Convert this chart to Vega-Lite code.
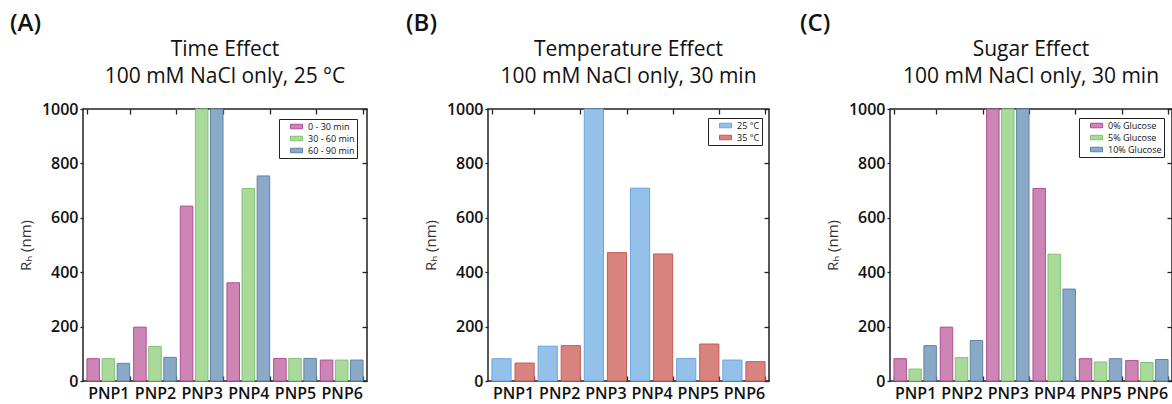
{
  "$schema": "https://vega.github.io/schema/vega-lite/v6.json",
  "padding": {"left": 10, "top": 12, "right": 0, "bottom": 0},
  "background": "white",
  "config": {
    "font": "Open Sans",
    "view": {"stroke": "#222", "strokeWidth": 1.5},
    "axis": {"grid": false, "domain": false, "labelFontSize": 16, "labelFontWeight": 600, "labelColor": "#111", "tickColor": "#222", "tickWidth": 1.3, "titleFontWeight": "normal", "titleFontSize": 15, "titleColor": "#333"},
    "title": {"color": "#111"},
    "legend": {"strokeColor": "#222", "fillColor": "white", "padding": 2, "labelFontSize": 9, "labelColor": "#111", "rowPadding": 1, "symbolType": "M-1.2,-0.45H1.2V0.45H-1.2Z", "symbolSize": 100, "symbolStrokeWidth": 1, "labelOffset": 6, "symbolOffset": 10, "cornerRadius": 0}
  },
  "spacing": 37,
  "resolve": {"scale": {"fill": "independent", "stroke": "independent", "xOffset": "independent"}, "legend": {"fill": "independent", "stroke": "independent"}},
  "hconcat": [
    {
      "title": {"text": "(A)", "anchor": "start", "frame": "group", "dx": -73, "fontSize": 24, "fontWeight": 600, "offset": 2},
      "vconcat": [
        {
          "title": {"text": ["Time Effect", "100 mM NaCl only, 25 °C"], "anchor": "middle", "frame": "group", "fontSize": 21, "fontWeight": 500, "lineHeight": 27, "offset": 14},
          "width": 284,
          "height": 272,
          "data": {"values": [
            {"pnp": "PNP1", "series": "0 - 30 min", "value": 82},
            {"pnp": "PNP1", "series": "30 - 60 min", "value": 82},
            {"pnp": "PNP1", "series": "60 - 90 min", "value": 65},
            {"pnp": "PNP2", "series": "0 - 30 min", "value": 198},
            {"pnp": "PNP2", "series": "30 - 60 min", "value": 127},
            {"pnp": "PNP2", "series": "60 - 90 min", "value": 87},
            {"pnp": "PNP3", "series": "0 - 30 min", "value": 643},
            {"pnp": "PNP3", "series": "30 - 60 min", "value": 1000},
            {"pnp": "PNP3", "series": "60 - 90 min", "value": 1000},
            {"pnp": "PNP4", "series": "0 - 30 min", "value": 361},
            {"pnp": "PNP4", "series": "30 - 60 min", "value": 708},
            {"pnp": "PNP4", "series": "60 - 90 min", "value": 754},
            {"pnp": "PNP5", "series": "0 - 30 min", "value": 83},
            {"pnp": "PNP5", "series": "30 - 60 min", "value": 83},
            {"pnp": "PNP5", "series": "60 - 90 min", "value": 83},
            {"pnp": "PNP6", "series": "0 - 30 min", "value": 77},
            {"pnp": "PNP6", "series": "30 - 60 min", "value": 77},
            {"pnp": "PNP6", "series": "60 - 90 min", "value": 77}
          ]},
          "layer": [
            {
              "mark": {"type": "bar", "strokeWidth": 1},
              "encoding": {
                "x": {"field": "pnp", "type": "nominal", "sort": null, "scale": {"paddingInner": 0.085, "paddingOuter": 0.085}, "axis": {"orient": "bottom", "title": null, "labelAngle": 0, "tickBand": "extent", "tickSize": -5, "labelPadding": 9}},
                "xOffset": {"field": "series", "type": "nominal", "sort": ["0 - 30 min", "30 - 60 min", "60 - 90 min"], "scale": {"paddingInner": 0.17, "paddingOuter": 0}},
                "y": {"field": "value", "type": "quantitative", "stack": null, "scale": {"domain": [0, 1000], "nice": false}, "axis": {"orient": "left", "title": "Rₕ (nm)", "format": "d", "values": [0, 200, 400, 600, 800, 1000], "tickSize": 3, "labelPadding": 2, "titlePadding": 8}},
                "fill": {"field": "series", "type": "nominal", "scale": {"domain": ["0 - 30 min", "30 - 60 min", "60 - 90 min"], "range": ["#cc85b5", "#a9d99b", "#8aa9c6"]}, "legend": {"title": null, "orient": "none", "legendX": 196, "legendY": 10}},
                "stroke": {"field": "series", "type": "nominal", "scale": {"domain": ["0 - 30 min", "30 - 60 min", "60 - 90 min"], "range": ["#b04d92", "#80c46f", "#5f84a8"]}, "legend": {"title": null, "orient": "none", "legendX": 196, "legendY": 10}}
              }
            },
            {
              "mark": {"type": "bar", "opacity": 0},
              "encoding": {
                "x": {"field": "pnp", "type": "nominal", "sort": null, "axis": {"orient": "top", "title": null, "labels": false, "tickBand": "extent", "tickSize": -5}},
                "y": {"field": "value", "type": "quantitative", "stack": null, "axis": {"orient": "right", "title": null, "labels": false, "values": [0, 200, 400, 600, 800, 1000], "tickSize": -5}}
              }
            }
          ],
          "resolve": {"axis": {"x": "independent", "y": "independent"}}
        }
      ]
    },
    {
      "spacing": 29,
      "resolve": {"scale": {"fill": "independent", "stroke": "independent", "xOffset": "independent"}, "legend": {"fill": "independent", "stroke": "independent"}},
      "hconcat": [
        {
          "title": {"text": "(B)", "anchor": "start", "frame": "group", "dx": -82, "fontSize": 24, "fontWeight": 600, "offset": 2},
          "vconcat": [
            {
              "title": {"text": ["Temperature Effect", "100 mM NaCl only, 30 min"], "anchor": "middle", "frame": "group", "fontSize": 21, "fontWeight": 500, "lineHeight": 27, "offset": 14},
              "width": 281,
              "height": 272,
              "data": {"values": [
                {"pnp": "PNP1", "series": "25 °C", "value": 82},
                {"pnp": "PNP1", "series": "35 °C", "value": 66},
                {"pnp": "PNP2", "series": "25 °C", "value": 128},
                {"pnp": "PNP2", "series": "35 °C", "value": 130},
                {"pnp": "PNP3", "series": "25 °C", "value": 1000},
                {"pnp": "PNP3", "series": "35 °C", "value": 472},
                {"pnp": "PNP4", "series": "25 °C", "value": 709},
                {"pnp": "PNP4", "series": "35 °C", "value": 467},
                {"pnp": "PNP5", "series": "25 °C", "value": 83},
                {"pnp": "PNP5", "series": "35 °C", "value": 136},
                {"pnp": "PNP6", "series": "25 °C", "value": 77},
                {"pnp": "PNP6", "series": "35 °C", "value": 71}
              ]},
              "layer": [
                {
                  "mark": {"type": "bar", "strokeWidth": 1},
                  "encoding": {
                    "x": {"field": "pnp", "type": "nominal", "sort": null, "scale": {"paddingInner": 0.085, "paddingOuter": 0.085}, "axis": {"orient": "bottom", "title": null, "labelAngle": 0, "tickBand": "extent", "tickSize": -5, "labelPadding": 9}},
                    "xOffset": {"field": "series", "type": "nominal", "sort": ["25 °C", "35 °C"], "scale": {"paddingInner": 0.17, "paddingOuter": 0}},
                    "y": {"field": "value", "type": "quantitative", "stack": null, "scale": {"domain": [0, 1000], "nice": false}, "axis": {"orient": "left", "title": "Rₕ (nm)", "format": "d", "values": [0, 200, 400, 600, 800, 1000], "tickSize": 3, "labelPadding": 2, "titlePadding": 8}},
                    "fill": {"field": "series", "type": "nominal", "scale": {"domain": ["25 °C", "35 °C"], "range": ["#93c1ea", "#d9837f"]}, "legend": {"title": null, "orient": "none", "legendX": 220, "legendY": 9}},
                    "stroke": {"field": "series", "type": "nominal", "scale": {"domain": ["25 °C", "35 °C"], "range": ["#6aa6dd", "#c55a55"]}, "legend": {"title": null, "orient": "none", "legendX": 220, "legendY": 9}}
                  }
                },
                {
                  "mark": {"type": "bar", "opacity": 0},
                  "encoding": {
                    "x": {"field": "pnp", "type": "nominal", "sort": null, "axis": {"orient": "top", "title": null, "labels": false, "tickBand": "extent", "tickSize": -5}},
                    "y": {"field": "value", "type": "quantitative", "stack": null, "axis": {"orient": "right", "title": null, "labels": false, "values": [0, 200, 400, 600, 800, 1000], "tickSize": -5}}
                  }
                }
              ],
              "resolve": {"axis": {"x": "independent", "y": "independent"}}
            }
          ]
        },
        {
          "title": {"text": "(C)", "anchor": "start", "frame": "group", "dx": -90, "fontSize": 24, "fontWeight": 600, "offset": 2},
          "vconcat": [
            {
              "title": {"text": ["Sugar Effect", "100 mM NaCl only, 30 min"], "anchor": "middle", "frame": "group", "fontSize": 21, "fontWeight": 500, "lineHeight": 27, "offset": 14},
              "width": 282,
              "height": 272,
              "data": {"values": [
                {"pnp": "PNP1", "series": "0% Glucose", "value": 82},
                {"pnp": "PNP1", "series": "5% Glucose", "value": 44},
                {"pnp": "PNP1", "series": "10% Glucose", "value": 130},
                {"pnp": "PNP2", "series": "0% Glucose", "value": 198},
                {"pnp": "PNP2", "series": "5% Glucose", "value": 86},
                {"pnp": "PNP2", "series": "10% Glucose", "value": 149},
                {"pnp": "PNP3", "series": "0% Glucose", "value": 1000},
                {"pnp": "PNP3", "series": "5% Glucose", "value": 1000},
                {"pnp": "PNP3", "series": "10% Glucose", "value": 1000},
                {"pnp": "PNP4", "series": "0% Glucose", "value": 708},
                {"pnp": "PNP4", "series": "5% Glucose", "value": 466},
                {"pnp": "PNP4", "series": "10% Glucose", "value": 338},
                {"pnp": "PNP5", "series": "0% Glucose", "value": 82},
                {"pnp": "PNP5", "series": "5% Glucose", "value": 70},
                {"pnp": "PNP5", "series": "10% Glucose", "value": 82},
                {"pnp": "PNP6", "series": "0% Glucose", "value": 75},
                {"pnp": "PNP6", "series": "5% Glucose", "value": 68},
                {"pnp": "PNP6", "series": "10% Glucose", "value": 79}
              ]},
              "layer": [
                {
                  "mark": {"type": "bar", "strokeWidth": 1},
                  "encoding": {
                    "x": {"field": "pnp", "type": "nominal", "sort": null, "scale": {"paddingInner": 0.085, "paddingOuter": 0.085}, "axis": {"orient": "bottom", "title": null, "labelAngle": 0, "tickBand": "extent", "tickSize": -5, "labelPadding": 9}},
                    "xOffset": {"field": "series", "type": "nominal", "sort": ["0% Glucose", "5% Glucose", "10% Glucose"], "scale": {"paddingInner": 0.17, "paddingOuter": 0}},
                    "y": {"field": "value", "type": "quantitative", "stack": null, "scale": {"domain": [0, 1000], "nice": false}, "axis": {"orient": "left", "title": "Rₕ (nm)", "format": "d", "values": [0, 200, 400, 600, 800, 1000], "tickSize": 3, "labelPadding": 2, "titlePadding": 8}},
                    "fill": {"field": "series", "type": "nominal", "scale": {"domain": ["0% Glucose", "5% Glucose", "10% Glucose"], "range": ["#cc85b5", "#a9d99b", "#8aa9c6"]}, "legend": {"title": null, "orient": "none", "legendX": 189, "legendY": 9}},
                    "stroke": {"field": "series", "type": "nominal", "scale": {"domain": ["0% Glucose", "5% Glucose", "10% Glucose"], "range": ["#b04d92", "#80c46f", "#5f84a8"]}, "legend": {"title": null, "orient": "none", "legendX": 189, "legendY": 9}}
                  }
                },
                {
                  "mark": {"type": "bar", "opacity": 0},
                  "encoding": {
                    "x": {"field": "pnp", "type": "nominal", "sort": null, "axis": {"orient": "top", "title": null, "labels": false, "tickBand": "extent", "tickSize": -5}},
                    "y": {"field": "value", "type": "quantitative", "stack": null, "axis": {"orient": "right", "title": null, "labels": false, "values": [0, 200, 400, 600, 800, 1000], "tickSize": -5}}
                  }
                }
              ],
              "resolve": {"axis": {"x": "independent", "y": "independent"}}
            }
          ]
        }
      ]
    }
  ]
}
